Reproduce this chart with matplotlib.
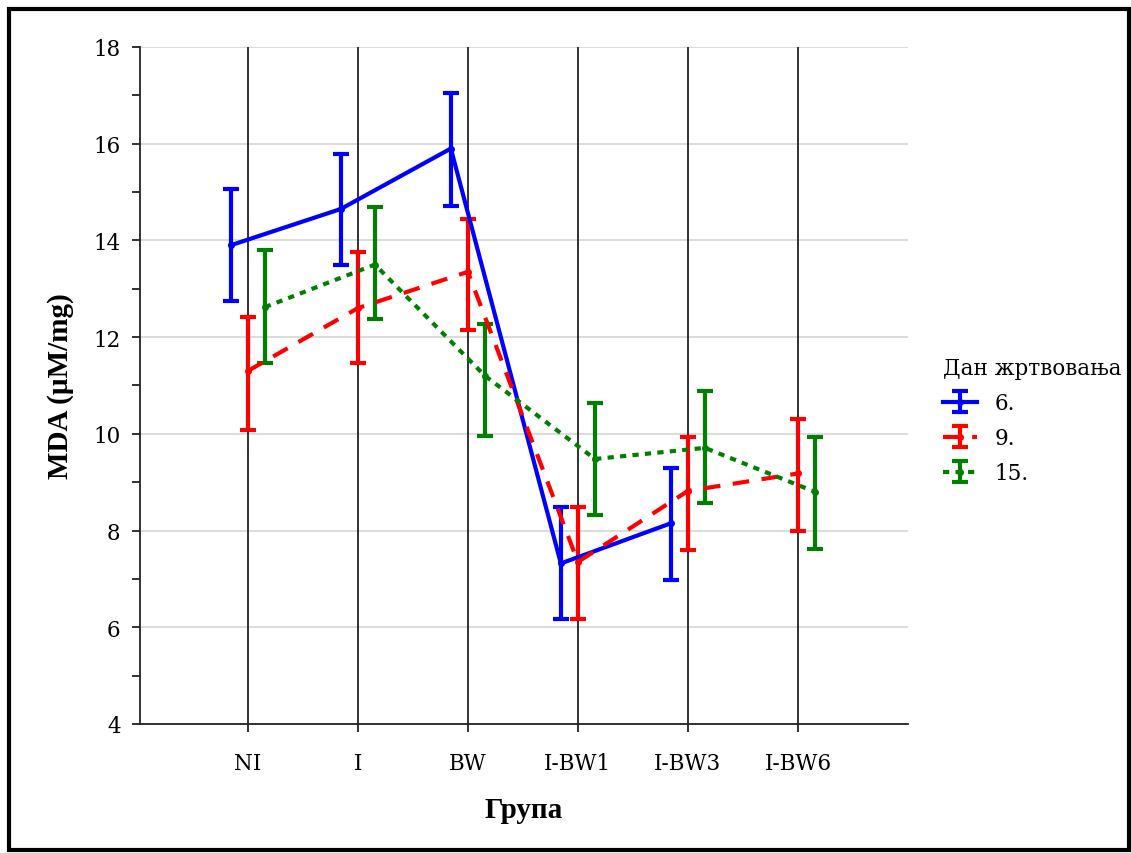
import numpy as np
import matplotlib.pyplot as plt
from matplotlib.patches import Rectangle

groups = ['NI', 'I', 'BW', 'I-BW1', 'I-BW3', 'I-BW6']
days = ['6.', '9.', '15.']

# means and error bar limits for each day (nan = no data)
mean6 = [13.9, 14.65, 15.9, 7.32, 8.15, np.nan]
low6 = [12.75, 13.49, 14.71, 6.17, 6.98, np.nan]
high6 = [15.06, 15.79, 17.05, 8.49, 9.29, np.nan]

mean9 = [11.3, 12.6, 13.35, 7.35, 8.82, 9.18]
low9 = [10.08, 11.46, 12.15, 6.17, 7.6, 7.99]
high9 = [12.42, 13.76, 14.44, 8.49, 9.93, 10.31]

mean15 = [12.62, 13.5, 11.2, 9.48, 9.71, 8.8]
low15 = [11.46, 12.37, 9.96, 8.32, 8.57, 7.62]
high15 = [13.8, 14.69, 12.27, 10.64, 10.89, 9.93]

plt.rcParams['font.family'] = ['DejaVu Serif']

fig = plt.figure(figsize=(11.31, 8.54), dpi=100)
ax = fig.add_axes([0.1238, 0.1511, 0.679, 0.7927])

x = np.arange(len(groups))
series = [
    (mean6, low6, high6, 'blue', '-', -0.155),
    (mean9, low9, high9, 'red', (0, (4, 3)), 0.0),
    (mean15, low15, high15, 'green', (0, (1.5, 1.5)), 0.155),
]

for day, (m, lo, hi, col, ls, off) in zip(days, series):
    m = np.array(m)
    err = [m - np.array(lo), np.array(hi) - m]
    ax.errorbar(x + off, m, yerr=err, color=col, ls=ls, lw=3, marker='o', ms=4,
                ecolor=col, elinewidth=3, capsize=5.5, capthick=3, zorder=3,
                label=day)

# grid
for yv in range(4, 19, 2):
    ax.axhline(yv, color='#d9d9d9', lw=1.3, zorder=0)
for xv in x:
    ax.axvline(xv, color='#222222', lw=1.3, zorder=1)

ax.set_xlim(-0.98, 6.0)
ax.set_ylim(4, 18)
ax.set_yticks(range(4, 19, 2))
ax.set_yticks(range(5, 18, 2), minor=True)
ax.set_xticks(x)
ax.set_xticklabels(groups)
ax.tick_params(axis='both', labelsize=15.5, length=6, width=1.3, color='#222222')
ax.tick_params(axis='y', which='minor', length=6, width=1.3, color='#222222')
ax.tick_params(axis='x', pad=14)
ax.tick_params(axis='y', pad=8)
for s in ['top', 'right']:
    ax.spines[s].set_visible(False)
for s in ['left', 'bottom']:
    ax.spines[s].set_linewidth(1.3)
    ax.spines[s].set_color('#222222')

ax.set_xlabel('Група', fontsize=21, fontweight='bold', family='Liberation Serif', labelpad=16)
ax.set_ylabel('MDA (µM/mg)', fontsize=21, fontweight='bold', family='Liberation Serif', labelpad=14)

leg = ax.legend(title='Дан жртвовања', loc='center left', bbox_to_anchor=(1.02, 0.448),
                frameon=False, fontsize=15.5, title_fontsize=15.5, handlelength=1.6,
                handletextpad=0.8, labelspacing=0.6, alignment='left')

fig.add_artist(Rectangle((0.008, 0.004), 0.99, 0.984, transform=fig.transFigure,
                         fill=False, edgecolor='black', lw=3))

fig.savefig('out.png', dpi=100)
